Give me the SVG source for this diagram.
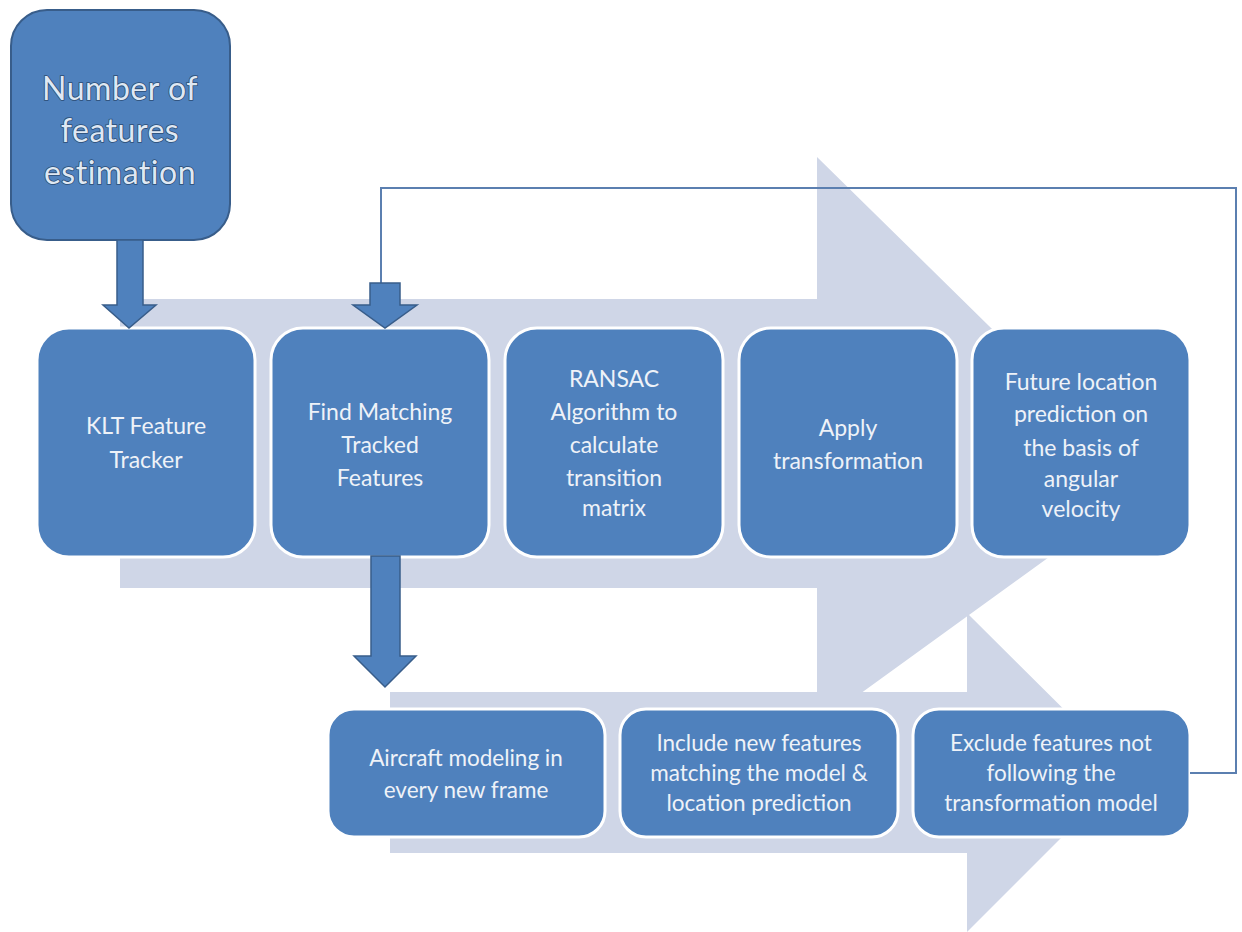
<svg xmlns="http://www.w3.org/2000/svg" width="1242" height="932" viewBox="0 0 1242 932">
<style>
.bg{fill:#cfd6e7}
.box{fill:#4f81bd;stroke:#ffffff;stroke-width:3}
.t1{font-family:Lato,"Open Sans",sans-serif;font-size:23px;fill:#eef2f8;text-anchor:middle;dominant-baseline:central}
.t2{font-family:Lato,"Open Sans",sans-serif;font-size:22.5px;fill:#eef2f8;text-anchor:middle;dominant-baseline:central}
.wa{font-family:Lato,"Open Sans",sans-serif;font-size:32px;fill:#dfe8f3;stroke:#2b4c74;stroke-width:1.6;paint-order:stroke;text-anchor:middle;dominant-baseline:central;letter-spacing:0.5px}
.arr{fill:#4f81bd;stroke:#385d8a;stroke-width:1.5}
.fb{fill:none;stroke:#5b7fb0;stroke-width:2}
</style>
<rect width="1242" height="932" fill="#ffffff"/>
<g id="background-arrows">
<polygon class="bg" points="120,299 817,299 817,157 1150,484 817,725 817,588 120,588"/>
<polygon class="bg" points="390,692 967,692 967,613 1127,772 967,932 967,853 390,853"/>
</g>
<g id="n-estimation">
<rect x="11" y="10" width="219" height="230" rx="36" fill="#4f81bd" stroke="#385d8a" stroke-width="2"/>
<text class="wa" x="120" y="87">Number of</text>
<text class="wa" x="120" y="129">features</text>
<text class="wa" x="120" y="171">estimation</text>
</g>
<g id="n-klt">
<rect class="box" x="37" y="328" width="218" height="229" rx="32"/>
<text class="t1" x="146" y="425">KLT Feature</text>
<text class="t1" x="146" y="459">Tracker</text>
</g>
<g id="n-find">
<rect class="box" x="271" y="328" width="218" height="229" rx="32"/>
<text class="t1" x="380" y="411">Find Matching</text>
<text class="t1" x="380" y="444">Tracked</text>
<text class="t1" x="380" y="477">Features</text>
</g>
<g id="n-ransac">
<rect class="box" x="505" y="328" width="218" height="229" rx="32"/>
<text class="t1" x="614" y="378">RANSAC</text>
<text class="t1" x="614" y="411">Algorithm to</text>
<text class="t1" x="614" y="444">calculate</text>
<text class="t1" x="614" y="477">transition</text>
<text class="t1" x="614" y="507">matrix</text>
</g>
<g id="n-apply">
<rect class="box" x="739" y="328" width="218" height="229" rx="32"/>
<text class="t1" x="848" y="427">Apply</text>
<text class="t1" x="848" y="460">transformation</text>
</g>
<g id="n-future">
<rect class="box" x="972" y="328" width="218" height="229" rx="32"/>
<text class="t1" x="1081" y="381">Future location</text>
<text class="t1" x="1081" y="413">prediction on</text>
<text class="t1" x="1081" y="447">the basis of</text>
<text class="t1" x="1081" y="478">angular</text>
<text class="t1" x="1081" y="508">velocity</text>
</g>
<g id="n-aircraft">
<rect class="box" x="328" y="709" width="277" height="128" rx="26"/>
<text class="t2" x="466" y="757">Aircraft modeling in</text>
<text class="t2" x="466" y="789">every new frame</text>
</g>
<g id="n-include">
<rect class="box" x="620" y="709" width="278" height="128" rx="26"/>
<text class="t2" x="759" y="742">Include new features</text>
<text class="t2" x="759" y="772">matching the model &amp;</text>
<text class="t2" x="759" y="802">location prediction</text>
</g>
<g id="n-exclude">
<rect class="box" x="913" y="709" width="277" height="128" rx="26"/>
<text class="t2" x="1051" y="742">Exclude features not</text>
<text class="t2" x="1051" y="772">following the</text>
<text class="t2" x="1051" y="802">transformation model</text>
</g>
<g id="connectors">
<path class="fb" d="M1190,773 H1236 V188 H381 V283"/>
<polygon class="arr" points="117,240 143,240 143,305 156,305 129,328 103,305 117,305"/>
<polygon class="arr" points="370,283 400,283 400,305 417,305 385,328 353,305 370,305"/>
<polygon class="arr" points="371,556 400,556 400,656 416,656 385,687 354,656 371,656"/>
</g>
</svg>
